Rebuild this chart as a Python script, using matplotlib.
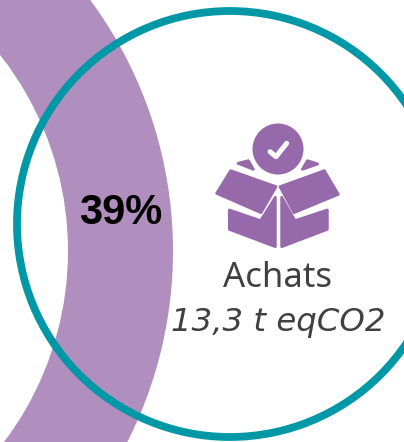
import matplotlib
matplotlib.use('Agg')
import matplotlib.pyplot as plt
from matplotlib.patches import Circle, Wedge, Polygon

# values shown on the chart
share_label = '39%'
category = 'Achats'
emission_label = '13,3 t eqCO2'

PURPLE = '#B08FBE'
ICON = '#9669AB'
TEAL = '#0098A7'
GREY = '#404040'

fig = plt.figure(figsize=(4.04, 4.42), dpi=100)
ax = fig.add_axes([0, 0, 1, 1])
ax.set_xlim(0, 404)
ax.set_ylim(442, 0)
ax.axis('off')

# ring segment, its centre is outside the picture
ax.add_patch(Wedge((-249, 251), 422, -60, 60, width=105, color=PURPLE, lw=0))
# teal circle
ax.add_patch(Circle((230, 224), 213, fill=False, ec=TEAL, lw=5.6))


def zoomed(pts):
    return [(200 + x / 3, 110 + y / 3) for x, y in pts]


shapes = [
    [(50, 250), (92, 182), (228, 230), (183, 308)],
    [(415, 253), (373, 182), (240, 230), (282, 308)],
    [(88, 300), (182, 332), (226, 262), (226, 410), (88, 358)],
    [(245, 262), (285, 332), (382, 300), (382, 358), (245, 410)],
    [(114, 160), (145, 152), (160, 178)],
    [(322, 152), (353, 162), (307, 178)],
]
for s in shapes:
    ax.add_patch(Polygon(zoomed(s), closed=True, fc=ICON, ec=ICON, lw=2, joinstyle='round'))

ax.add_patch(Circle((278, 149), 25.5, color=ICON, lw=0))
tick = zoomed([(210, 125), (228, 140), (260, 100)])
ax.plot([p[0] for p in tick], [p[1] for p in tick], color='white', lw=3.6,
        solid_capstyle='round', solid_joinstyle='round')

ax.text(121, 224, share_label, ha='center', va='baseline', fontsize=30,
        fontweight='bold', family='Liberation Sans', color='black')
ax.text(277.5, 287, category, ha='center', va='baseline', fontsize=25,
        family='Noto Sans', color=GREY)
ax.text(278.5, 331, emission_label, ha='center', va='baseline', fontsize=23.3,
        style='italic', family='DejaVu Sans', color=GREY)

fig.savefig('out.png', dpi=100)
